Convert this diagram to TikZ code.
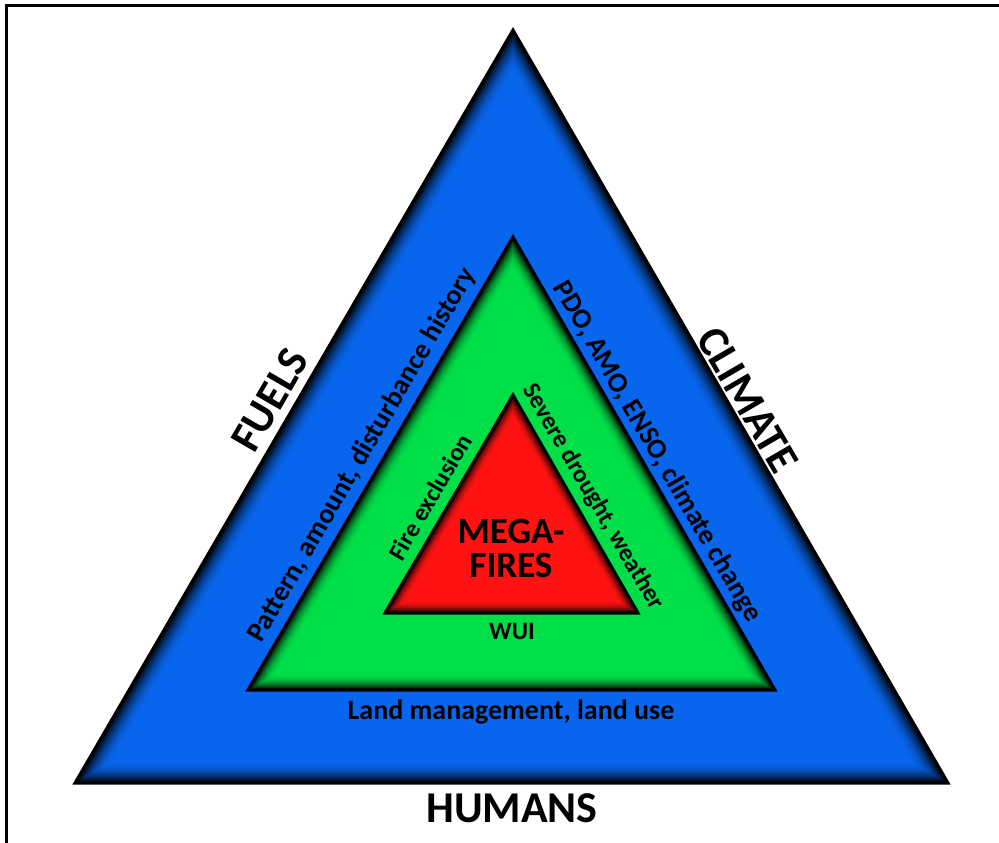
\documentclass[tikz,border=0pt]{standalone}
\usepackage{fontspec}
\setmainfont{Carlito}
\definecolor{tblue}{RGB}{8,102,238}
\definecolor{tgreen}{RGB}{0,222,72}
\definecolor{tred}{RGB}{255,18,18}
\newcommand{\glowtri}[8]{%
  % #1 colour, #2 #3 #4 corners, #5 incenter, #6 inradius, #7 glow width, #8 steps
  \foreach \i in {0,...,#8}{%
    \pgfmathsetmacro{\s}{1-\i*#7/(#8*#6)}%
    \pgfmathsetmacro{\p}{100*(1-(1-\i/#8)^2)}%
    \fill[#1!\p!black, scale around={\s:#5}] #2 -- #3 -- #4 -- cycle;
  }%
  \draw[line width=3pt, line join=miter] #2 -- #3 -- #4 -- cycle;
}
\begin{document}
\begin{tikzpicture}[x=1pt,y=-1pt,
  big/.style={font=\fontsize{44}{44}\selectfont\bfseries, inner sep=0pt},
  mid/.style={font=\fontsize{28}{28}\selectfont\bfseries, inner sep=0pt},
  small/.style={font=\fontsize{25}{25}\selectfont\bfseries, inner sep=0pt},
  mega/.style={font=\fontsize{37}{37}\selectfont\bfseries, inner sep=0pt}]
\useasboundingbox (0,0) rectangle (999,843);
\fill[white] (0,0) rectangle (999,843);
\draw[line width=3pt] (6.5,843) -- (6.5,5.5) -- (999,5.5);
% triangles
\glowtri{tblue}{(513,30)}{(75,783)}{(948,783)}{(512.25,531.5)}{251.5}{22}{18}
\glowtri{tgreen}{(513,237)}{(248,690)}{(775,690)}{(512.25,538.4)}{151.6}{16}{16}
\glowtri{tred}{(513,395)}{(385,613)}{(638,613)}{(512.25,540.2)}{72.85}{12}{14}
% labels
\node[big] (humans) at (512,808) {HUMANS};
\node[big, rotate=59.8] (fuels) at (270,400) {FUELS};
\node[big, rotate=-59.8] (climate) at (748,400) {CLIMATE};
\node[mid] (land) at (511,712) {Land management, land use};
\node[mid, rotate=59.8] (pattern) at (362,455) {Pattern, amount, disturbance history};
\node[mid, rotate=-59.8] (pdo) at (657,452) {PDO, AMO, ENSO, climate change};
\node[small, rotate=59.7] (fire) at (430,497) {Fire exclusion};
\node[small, rotate=-59.7] (severe) at (593,497) {Severe drought, weather};
\node[small] (wui) at (512,631) {WUI};
\node[mega, align=center] (mega) at (511,548) {MEGA-\\[-3pt]FIRES};
\end{tikzpicture}
\end{document}
